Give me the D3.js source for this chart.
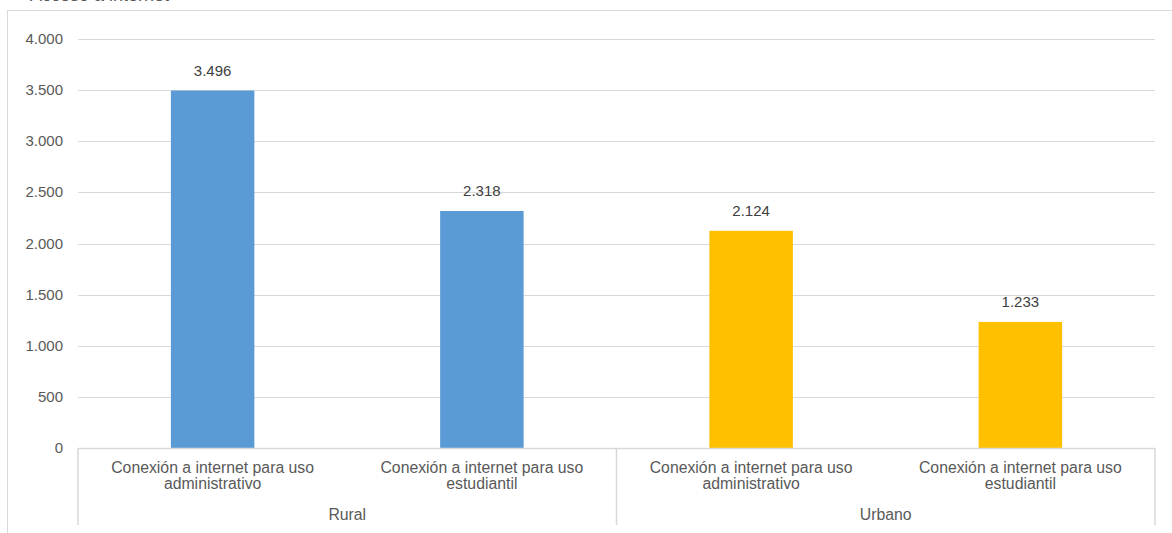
<!DOCTYPE html>
<html>
<head>
<meta charset="utf-8">
<script src="https://cdn.jsdelivr.net/npm/d3@7"></script>
<style>
  body { margin: 0; background: #fff; }
  svg { display: block; font-family: "Liberation Sans", Arial, sans-serif; }
</style>
</head>
<body>
<div id="chart"></div>
<script>
// data
const groups = ["Rural", "Urbano"];
const subLabels = [
    ["Conexión a internet para uso", "administrativo"],
    ["Conexión a internet para uso", "estudiantil"],
    ["Conexión a internet para uso", "administrativo"],
    ["Conexión a internet para uso", "estudiantil"]
];
const values = [3496, 2318, 2124, 1233];
const barGroup = [0, 0, 1, 1];
const yTicks = [0, 500, 1000, 1500, 2000, 2500, 3000, 3500, 4000];
const colors = ["#5B9BD5", "#FFC000"];

const width = 1172;
const height = 533;
const plot = { left: 78, right: 1155, top: 39, bottom: 448 };

const loc = d3.formatLocale({ decimal: ",", thousands: ".", grouping: [3], currency: ["", ""] });
const fmt = loc.format(",d");

const svg = d3.select("#chart").append("svg")
    .attr("width", width)
    .attr("height", height);

// chart frame
svg.append("rect")
    .attr("x", 7.5).attr("y", 10.5)
    .attr("width", 1200).attr("height", 600)
    .attr("fill", "none")
    .attr("stroke", "#d9d9d9");

// title (cut off at the top in the original too)
svg.append("text")
    .attr("x", 30).attr("y", 1)
    .style("font-size", "18px")
    .attr("fill", "#595959")
    .text("Acceso a internet");

const x = d3.scaleBand()
    .domain(d3.range(values.length))
    .range([plot.left, plot.right]);

const y = d3.scaleLinear()
    .domain([0, 4000])
    .range([plot.bottom, plot.top]);

// gridlines
svg.append("g")
    .selectAll("line")
    .data(yTicks.filter(d => d > 0))
    .enter().append("line")
    .attr("x1", plot.left).attr("x2", plot.right)
    .attr("y1", d => Math.round(y(d)) + 0.5)
    .attr("y2", d => Math.round(y(d)) + 0.5)
    .attr("stroke", "#d9d9d9")
    .attr("stroke-width", 1);

// y labels
svg.append("g")
    .selectAll("text")
    .data(yTicks)
    .enter().append("text")
    .attr("x", 63)
    .attr("y", d => y(d) + 5)
    .attr("text-anchor", "end")
    .style("font-size", "15px")
    .attr("fill", "#595959")
    .text(d => fmt(d));

// bars
const bw = x.bandwidth();
svg.append("g")
    .selectAll("rect")
    .data(values)
    .enter().append("rect")
    .attr("x", (d, i) => x(i) + bw * 0.345)
    .attr("width", bw * 0.31)
    .attr("y", d => y(d))
    .attr("height", d => y(0) - y(d))
    .attr("fill", (d, i) => colors[barGroup[i]]);

// value labels
svg.append("g")
    .selectAll("text")
    .data(values)
    .enter().append("text")
    .attr("x", (d, i) => x(i) + bw / 2)
    .attr("y", d => y(d) - 15)
    .attr("text-anchor", "middle")
    .style("font-size", "15px")
    .attr("fill", "#404040")
    .text(d => fmt(d));

// category axis
const axis = svg.append("g").attr("stroke", "#d9d9d9").attr("stroke-width", 1.5);
axis.append("line")
    .attr("x1", plot.left).attr("x2", plot.right)
    .attr("y1", plot.bottom + 0.5).attr("y2", plot.bottom + 0.5);
const groupEdges = [plot.left, x(2), plot.right];
axis.selectAll("line.sep")
    .data(groupEdges)
    .enter().append("line")
    .attr("class", "sep")
    .attr("x1", d => d).attr("x2", d => d)
    .attr("y1", plot.bottom).attr("y2", 525);

const cat = svg.append("g")
    .selectAll("text")
    .data(subLabels)
    .enter().append("text")
    .attr("text-anchor", "middle")
    .style("font-size", "15.8px")
    .attr("fill", "#595959");
cat.append("tspan")
    .attr("x", (d, i) => x(i) + bw / 2)
    .attr("y", 473)
    .text(d => d[0]);
cat.append("tspan")
    .attr("x", (d, i) => x(i) + bw / 2)
    .attr("y", 489)
    .text(d => d[1]);

svg.append("g")
    .selectAll("text")
    .data(groups)
    .enter().append("text")
    .attr("x", (d, i) => (groupEdges[i] + groupEdges[i + 1]) / 2)
    .attr("y", 520)
    .attr("text-anchor", "middle")
    .style("font-size", "15.8px")
    .attr("fill", "#595959")
    .text(d => d);
</script>
</body>
</html>
